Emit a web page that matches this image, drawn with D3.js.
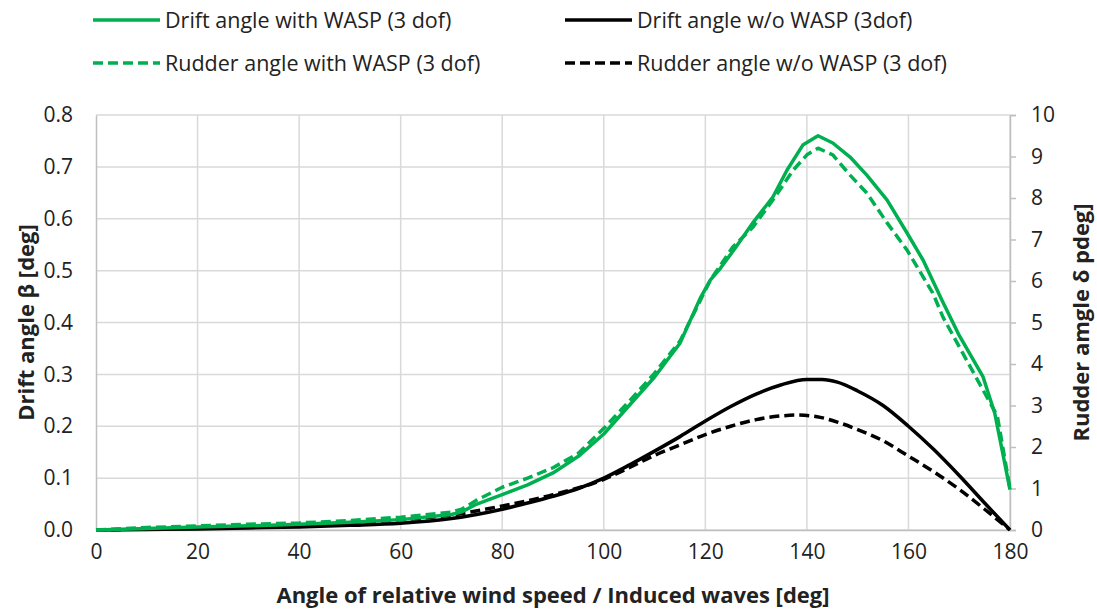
<!DOCTYPE html>
<html>
<head>
<meta charset="utf-8">
<script src="https://cdn.jsdelivr.net/npm/d3@7"></script>
<style>
  body { margin: 0; background: #fff; }
  text { font-family: "Open Sans", sans-serif; fill: #222; }
</style>
</head>
<body>
<script>
var w = 1097,
    h = 609,
    margin = {top: 115, right: 87, bottom: 79, left: 96};

// drift angle with WASP [deg], left axis
var driftWaspX = [0, 10, 20, 30, 40, 50, 60, 70, 72, 75, 80, 85, 90, 95, 100, 105, 110, 115, 119, 121, 123, 126, 129.5, 133.3, 136.1, 139.2, 142.2, 145.1, 148.5, 151.8, 155.8, 159.7, 162.9, 166.6, 170, 174.7, 177, 180];
var driftWaspY = [0, 0.003, 0.006, 0.008, 0.011, 0.015, 0.02, 0.03, 0.035, 0.05, 0.068, 0.087, 0.11, 0.142, 0.185, 0.24, 0.295, 0.36, 0.447, 0.482, 0.505, 0.545, 0.594, 0.642, 0.694, 0.742, 0.76, 0.746, 0.719, 0.684, 0.636, 0.573, 0.52, 0.443, 0.375, 0.295, 0.225, 0.078];

// drift angle without WASP [deg], left axis
var driftX = [0, 10, 20, 30, 40, 50, 60, 70, 80, 85, 90, 95, 100, 105, 110, 115, 120, 125, 130, 135, 140, 143, 146, 150, 155, 160, 165, 170, 175, 180];
var driftY = [0, 0.001, 0.002, 0.004, 0.006, 0.009, 0.013, 0.022, 0.04, 0.052, 0.065, 0.08, 0.1, 0.125, 0.152, 0.18, 0.21, 0.238, 0.262, 0.28, 0.29, 0.29, 0.285, 0.268, 0.24, 0.2, 0.155, 0.105, 0.052, 0];

// rudder angle with WASP [deg], right axis
var rudderWaspX = [0, 10, 20, 30, 40, 50, 60, 70, 72, 75, 80, 85, 90, 95, 100, 105, 110, 115, 121, 125.4, 129.4, 133.3, 137.3, 140, 142.2, 145.1, 148.5, 151.8, 155.8, 159.7, 164.8, 166.8, 170.7, 174.7, 177.5, 180];
var rudderWaspY = [0, 0.06, 0.1, 0.14, 0.17, 0.23, 0.31, 0.43, 0.5, 0.72, 1.03, 1.25, 1.5, 1.85, 2.45, 3.1, 3.78, 4.55, 6.02, 6.82, 7.3, 7.95, 8.67, 9.04, 9.2, 9.04, 8.55, 8.12, 7.4, 6.75, 5.71, 5.13, 4.26, 3.37, 2.75, 1.0];

// rudder angle without WASP [deg], right axis
var rudderX = [0, 10, 20, 30, 40, 50, 60, 70, 80, 90, 100, 105, 110, 115, 120, 125, 130, 135, 138, 142, 146, 150, 155, 160, 165, 170, 175, 180];
var rudderY = [0, 0.03, 0.06, 0.09, 0.13, 0.18, 0.25, 0.36, 0.58, 0.85, 1.22, 1.5, 1.8, 2.05, 2.3, 2.5, 2.66, 2.75, 2.77, 2.73, 2.6, 2.42, 2.15, 1.78, 1.4, 0.98, 0.5, 0];

var xTicks = d3.range(0, 181, 20);
var leftTicks = d3.range(0, 0.81, 0.1);
var rightTicks = d3.range(0, 11, 1);

var legendNames = ["Drift angle with WASP (3 dof)", "Drift angle w/o WASP (3dof)",
                   "Rudder angle with WASP (3 dof)", "Rudder angle w/o WASP (3 dof)"];

var green = "#00b050";

var svg = d3.select("body").append("svg")
    .attr("width", w)
    .attr("height", h);

var iw = w - margin.left - margin.right,
    ih = h - margin.top - margin.bottom;

var x = d3.scaleLinear().domain([0, 180]).range([margin.left, margin.left + iw]);
var yL = d3.scaleLinear().domain([0, 0.8]).range([margin.top + ih, margin.top]);
var yR = d3.scaleLinear().domain([0, 10]).range([margin.top + ih, margin.top]);

// grid
svg.append("g").selectAll("line.h")
    .data(leftTicks)
    .enter().append("line")
    .attr("x1", x(0)).attr("x2", x(180))
    .attr("y1", function(d) { return yL(d); })
    .attr("y2", function(d) { return yL(d); })
    .attr("stroke", "#d9d9d9").attr("stroke-width", 1.5);

svg.append("g").selectAll("line.v")
    .data(xTicks.slice(1))
    .enter().append("line")
    .attr("y1", yL(0)).attr("y2", yL(0.8))
    .attr("x1", function(d) { return x(d); })
    .attr("x2", function(d) { return x(d); })
    .attr("stroke", "#d9d9d9").attr("stroke-width", 1.5);

// axes
var gx = svg.append("g")
    .attr("transform", "translate(0," + yL(0) + ")")
    .call(d3.axisBottom(x).tickValues(xTicks).tickSize(0).tickPadding(14));

var gl = svg.append("g")
    .attr("transform", "translate(" + x(0) + ",0)")
    .call(d3.axisLeft(yL).tickValues(leftTicks).tickFormat(d3.format(".1f")).tickSize(0).tickPadding(23));

var gr = svg.append("g")
    .attr("transform", "translate(" + x(180) + ",0)")
    .call(d3.axisRight(yR).tickValues(rightTicks).tickFormat(d3.format("d")).tickSize(6).tickPadding(15));

[gx, gl, gr].forEach(function(g) {
  g.selectAll("path.domain").attr("stroke", "#bfbfbf").attr("stroke-width", 1.5);
  g.selectAll(".tick line").attr("stroke", "#bfbfbf").attr("stroke-width", 1.5);
  g.selectAll(".tick text").style("font-size", "21px").style("font-family", "'Open Sans', sans-serif").attr("fill", "#222");
});

// axis titles
svg.append("text")
    .attr("x", x(90)).attr("y", 603)
    .attr("text-anchor", "middle")
    .style("font-size", "22px").style("font-weight", "bold")
    .text("Angle of relative wind speed / Induced waves [deg]");

svg.append("text")
    .attr("transform", "translate(34," + yL(0.4) + ") rotate(-90)")
    .attr("text-anchor", "middle")
    .style("font-size", "22px").style("font-weight", "bold")
    .text("Drift angle β [deg]");

svg.append("text")
    .attr("transform", "translate(1089," + yL(0.4) + ") rotate(-90)")
    .attr("text-anchor", "middle")
    .style("font-size", "22px").style("font-weight", "bold")
    .text("Rudder amgle δ pdeg]");

// series
function pairs(xs, ys) {
  return xs.map(function(d, i) { return [d, ys[i]]; });
}

var lineL = d3.line().x(function(d) { return x(d[0]); }).y(function(d) { return yL(d[1]); });
var lineR = d3.line().x(function(d) { return x(d[0]); }).y(function(d) { return yR(d[1]); });
var smoothL = d3.line().curve(d3.curveMonotoneX).x(function(d) { return x(d[0]); }).y(function(d) { return yL(d[1]); });
var smoothR = d3.line().curve(d3.curveMonotoneX).x(function(d) { return x(d[0]); }).y(function(d) { return yR(d[1]); });

var series = [
  {data: pairs(rudderX, rudderY), line: smoothR, color: "#000", dash: "10,5"},
  {data: pairs(driftX, driftY), line: smoothL, color: "#000", dash: null},
  {data: pairs(rudderWaspX, rudderWaspY), line: lineR, color: green, dash: "10,5"},
  {data: pairs(driftWaspX, driftWaspY), line: lineL, color: green, dash: null}
];

svg.append("g").selectAll("path")
    .data(series)
    .enter().append("path")
    .attr("d", function(d) { return d.line(d.data); })
    .attr("fill", "none")
    .attr("stroke", function(d) { return d.color; })
    .attr("stroke-width", 3.5)
    .attr("stroke-dasharray", function(d) { return d.dash; })
    .attr("stroke-linejoin", "round");

// legend
var legendItems = [
  {name: legendNames[0], color: green, dash: null, lx: 93, ly: 20},
  {name: legendNames[1], color: "#000", dash: null, lx: 565, ly: 20},
  {name: legendNames[2], color: green, dash: "10,5", lx: 93, ly: 63},
  {name: legendNames[3], color: "#000", dash: "10,5", lx: 565, ly: 63}
];

var lg = svg.append("g").selectAll("g")
    .data(legendItems)
    .enter().append("g")
    .attr("transform", function(d) { return "translate(" + d.lx + "," + d.ly + ")"; });

lg.append("line")
    .attr("x1", 0).attr("x2", 67)
    .attr("stroke", function(d) { return d.color; })
    .attr("stroke-width", 3.5)
    .attr("stroke-dasharray", function(d) { return d.dash; });

lg.append("text")
    .attr("x", 72).attr("dy", "0.35em")
    .style("font-size", "21.5px")
    .text(function(d) { return d.name; });
</script>
</body>
</html>
